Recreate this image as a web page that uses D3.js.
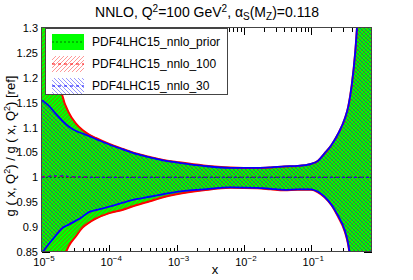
<!DOCTYPE html>
<html>
<head>
<meta charset="utf-8">
<script src="https://cdn.jsdelivr.net/npm/d3@7"></script>
<style>
        body { margin: 0; background: #fff; }
        text { font-family: "Liberation Sans", Arial, sans-serif; }
</style>
</head>
<body>
<svg id="chart" width="413" height="280"></svg>
<script>
// ratio of the gluon to the prior set, NNLO, Q2 = 100 GeV2

// x grid (shared by all bands)
var xVals = [1e-5, 1.3e-5, 1.6e-5, 2e-5, 2.5e-5, 3.2e-5, 4e-5, 5e-5, 6.3e-5, 1e-4,
             1.6e-4, 2.5e-4, 4e-4, 6.3e-4, 1e-3, 2.5e-3, 6.3e-3, 0.016, 0.025, 0.04,
             0.063, 0.1, 0.126, 0.158, 0.2, 0.25, 0.316, 0.355, 0.4, 0.45, 0.5, 0.56, 0.8];

// PDF4LHC15_nnlo_prior (green band)
var priorUp = [1.43, 1.33, 1.25, 1.168, 1.132, 1.109, 1.096, 1.087, 1.080, 1.068,
               1.058, 1.049, 1.042, 1.036, 1.032, 1.025, 1.021, 1.020, 1.020, 1.022,
               1.023, 1.028, 1.034, 1.049, 1.066, 1.088, 1.119, 1.143, 1.187, 1.25, 1.34, 1.45, 1.8];
var priorLo = [0.69, 0.745, 0.788, 0.828, 0.861, 0.881, 0.898, 0.908, 0.916, 0.927,
               0.934, 0.943, 0.951, 0.959, 0.965, 0.973, 0.978, 0.977, 0.975, 0.973,
               0.974, 0.974, 0.969, 0.959, 0.943, 0.920, 0.890, 0.863, 0.81, 0.748, 0.69, 0.63, 0.39];
var priorMid = xVals.map(function() { return 1.0; });

// PDF4LHC15_nnlo_100 (red hatch)
var nnlo100Up = [1.42, 1.32, 1.245, 1.165, 1.13, 1.108, 1.095, 1.086, 1.079, 1.067,
                 1.057, 1.048, 1.041, 1.035, 1.031, 1.024, 1.020, 1.019, 1.020, 1.022,
                 1.023, 1.027, 1.033, 1.048, 1.065, 1.087, 1.118, 1.142, 1.185, 1.25, 1.34, 1.45, 1.8];
var nnlo100Lo = [0.70, 0.75, 0.79, 0.83, 0.862, 0.882, 0.899, 0.909, 0.917, 0.928,
                 0.935, 0.944, 0.952, 0.960, 0.966, 0.974, 0.979, 0.978, 0.976, 0.974,
                 0.975, 0.975, 0.970, 0.960, 0.944, 0.921, 0.891, 0.864, 0.812, 0.75, 0.695, 0.635, 0.40];
var nnlo100Mid = [1.001, 1.002, 1.002, 1.002, 1.001, 1.001, 1.001, 1.000, 1.000, 1.000,
                  1.000, 1.000, 1.000, 1.000, 1.000, 1.000, 1.000, 1.000, 1.000, 1.000,
                  1.000, 1.000, 1.000, 1.000, 1.000, 1.000, 1.000, 1.000, 1.000, 1.000, 1.000, 1.000, 1.000];

// PDF4LHC15_nnlo_30 (blue hatch)
var nnlo30Up = [1.155, 1.142, 1.128, 1.114, 1.102, 1.093, 1.088, 1.083, 1.077, 1.066,
                1.056, 1.047, 1.040, 1.034, 1.030, 1.023, 1.019, 1.019, 1.020, 1.022,
                1.023, 1.027, 1.033, 1.048, 1.065, 1.087, 1.118, 1.142, 1.185, 1.25, 1.34, 1.45, 1.8];
var nnlo30Lo = [0.848, 0.868, 0.883, 0.898, 0.905, 0.913, 0.921, 0.930, 0.934, 0.941,
                0.949, 0.956, 0.961, 0.966, 0.971, 0.976, 0.980, 0.979, 0.977, 0.975,
                0.976, 0.976, 0.971, 0.961, 0.945, 0.923, 0.893, 0.866, 0.815, 0.755, 0.70, 0.64, 0.40];
var nnlo30Mid = [1.000, 1.002, 1.003, 1.003, 1.002, 1.001, 1.001, 1.000, 1.000, 1.000,
                 1.000, 1.000, 1.000, 1.000, 1.000, 1.000, 1.000, 1.000, 1.000, 1.000,
                 1.000, 1.000, 1.000, 1.000, 1.000, 1.000, 1.000, 1.000, 1.000, 1.000, 1.000, 1.000, 1.000];

// axes
var xDomain = [1e-5, 0.8];
var yDomain = [0.85, 1.3];
var yTicks = [0.85, 0.9, 0.95, 1.0, 1.05, 1.1, 1.15, 1.2, 1.25, 1.3];
var yTickLabels = ["0.85", "0.9", "0.95", "1", "1.05", "1.1", "1.15", "1.2", "1.25", "1.3"];
var xMajor = [1e-5, 1e-4, 1e-3, 1e-2, 1e-1];
var xMajorExp = ["-5", "-4", "-3", "-2", "-1"];

var legendNames = ["PDF4LHC15_nnlo_prior", "PDF4LHC15_nnlo_100", "PDF4LHC15_nnlo_30"];

// layout (window.top is taken, so prefix these)
var padL = 42, padR = 372, padT = 28, padB = 252;

var svg = d3.select("#chart");
var x = d3.scaleLog().domain(xDomain).range([padL, padR]);
var y = d3.scaleLinear().domain(yDomain).range([padB, padT]);

// minor ticks 2..9 of every decade inside the domain
var xMinor = [];
for (var e = -5; e <= -1; e++) {
        for (var m = 2; m <= 9; m++) {
                var v = m * Math.pow(10, e);
                if (v < xDomain[1]) xMinor.push(v);
        }
}

var defs = svg.append("defs");
defs.append("clipPath").attr("id", "plotclip")
        .append("rect").attr("x", padL).attr("y", padT)
        .attr("width", padR - padL).attr("height", padB - padT);

function hatch(id, colour, d) {
        defs.append("pattern")
                .attr("id", id)
                .attr("patternUnits", "userSpaceOnUse")
                .attr("width", 4).attr("height", 4)
                .append("path")
                .attr("d", d)
                .attr("stroke", colour)
                .attr("stroke-width", 0.55)
                .attr("stroke-opacity", 0.75);
}
hatch("hatchRed", "#ff0000", "M-1,1 l2,-2 M0,4 l4,-4 M3,5 l2,-2");
hatch("hatchBlue", "#0000ff", "M-1,3 l2,2 M0,0 l4,4 M3,-1 l2,2");

// ticks first, the bands are drawn over them
var ticks = svg.append("g").attr("stroke", "#000").attr("stroke-width", 1);
xMajor.forEach(function(v) {
        var px = Math.round(x(v)) + 0.5;
        ticks.append("line").attr("x1", px).attr("x2", px).attr("y1", padB).attr("y2", padB - 7);
        ticks.append("line").attr("x1", px).attr("x2", px).attr("y1", padT).attr("y2", padT + 7);
});
xMinor.forEach(function(v) {
        var px = Math.round(x(v)) + 0.5;
        ticks.append("line").attr("x1", px).attr("x2", px).attr("y1", padB).attr("y2", padB - 4);
        ticks.append("line").attr("x1", px).attr("x2", px).attr("y1", padT).attr("y2", padT + 4);
});
yTicks.forEach(function(v) {
        var py = Math.round(y(v)) + 0.5;
        ticks.append("line").attr("x1", padL).attr("x2", padL + 8).attr("y1", py).attr("y2", py);
        ticks.append("line").attr("x1", padR).attr("x2", padR - 8).attr("y1", py).attr("y2", py);
});

// bands
function rows(up, lo, mid) {
        return xVals.map(function(xv, i) { return { x: xv, up: up[i], lo: lo[i], mid: mid[i] }; });
}
var area = d3.area().x(function(d) { return x(d.x); })
        .y0(function(d) { return y(d.lo); })
        .y1(function(d) { return y(d.up); })
        .curve(d3.curveMonotoneX);
function edge(key) {
        return d3.line().x(function(d) { return x(d.x); })
                .y(function(d) { return y(d[key]); })
                .curve(d3.curveMonotoneX);
}

var plot = svg.append("g").attr("clip-path", "url(#plotclip)");
var prior = rows(priorUp, priorLo, priorMid);
var r100 = rows(nnlo100Up, nnlo100Lo, nnlo100Mid);
var r30 = rows(nnlo30Up, nnlo30Lo, nnlo30Mid);

plot.append("path").datum(prior).attr("d", area).attr("fill", "#00ff00");
plot.append("path").datum(r100).attr("d", area).attr("fill", "url(#hatchRed)");
plot.append("path").datum(r30).attr("d", area).attr("fill", "url(#hatchBlue)");

["up", "lo"].forEach(function(k) {
        plot.append("path").datum(r100).attr("d", edge(k))
                .attr("fill", "none").attr("stroke", "#ff0000").attr("stroke-width", 2);
});
["up", "lo"].forEach(function(k) {
        plot.append("path").datum(r30).attr("d", edge(k))
                .attr("fill", "none").attr("stroke", "#0000ff").attr("stroke-width", 1.8);
});

plot.append("path").datum(prior).attr("d", edge("mid"))
        .attr("fill", "none").attr("stroke", "#007700").attr("stroke-width", 1.2)
        .attr("stroke-dasharray", "2,2");
plot.append("path").datum(r100).attr("d", edge("mid"))
        .attr("fill", "none").attr("stroke", "#ff0000").attr("stroke-width", 1.2)
        .attr("stroke-dasharray", "3,3");
plot.append("path").datum(r30).attr("d", edge("mid"))
        .attr("fill", "none").attr("stroke", "#2020cc").attr("stroke-width", 1.2)
        .attr("stroke-dasharray", "3,3");

// frame
svg.append("rect")
        .attr("x", padL - 0.5).attr("y", padT - 0.5)
        .attr("width", padR - padL).attr("height", padB - padT)
        .attr("fill", "none").attr("stroke", "#444").attr("stroke-width", 1);

// tick labels
svg.append("g").selectAll("text").data(yTicks).join("text")
        .attr("x", padL - 4)
        .attr("y", function(d) { return y(d) + 4; })
        .attr("text-anchor", "end")
        .attr("font-size", "11px")
        .text(function(d, i) { return yTickLabels[i]; });

var xl = svg.append("g").selectAll("text").data(xMajor).join("text")
        .attr("x", function(d) { return x(d) + 2; })
        .attr("y", 266)
        .attr("text-anchor", "middle")
        .attr("font-size", "11px");
xl.append("tspan").text("10");
xl.append("tspan").attr("dy", -5).attr("font-size", "8px")
        .text(function(d, i) { return xMajorExp[i].replace("-", "\u2212"); });

// axis titles
svg.append("text")
        .attr("x", 215).attr("y", 274)
        .attr("text-anchor", "middle")
        .attr("font-size", "13px")
        .text("x");

var yt = svg.append("text")
        .attr("transform", "translate(15,146) rotate(-90)")
        .attr("text-anchor", "middle")
        .attr("font-size", "13px");
yt.append("tspan").text("g ( x, Q");
yt.append("tspan").attr("dy", -5).attr("font-size", "9px").text("2");
yt.append("tspan").attr("dy", 5).text(") / g ( x, Q");
yt.append("tspan").attr("dy", -5).attr("font-size", "9px").text("2");
yt.append("tspan").attr("dy", 5).text(") [ref]");

// title
var tt = svg.append("text")
        .attr("x", 207).attr("y", 17)
        .attr("text-anchor", "middle")
        .attr("font-size", "14px");
tt.append("tspan").text("NNLO, Q");
tt.append("tspan").attr("dy", -5).attr("font-size", "10px").text("2");
tt.append("tspan").attr("dy", 5).text("=100 GeV");
tt.append("tspan").attr("dy", -5).attr("font-size", "10px").text("2");
tt.append("tspan").attr("dy", 5).text(", \u03b1");
tt.append("tspan").attr("dy", 3).attr("font-size", "10px").text("S");
tt.append("tspan").attr("dy", -3).text("(M");
tt.append("tspan").attr("dy", 3).attr("font-size", "10px").text("Z");
tt.append("tspan").attr("dy", -3).text(")=0.118");

// legend
var lg = svg.append("g");
lg.append("rect")
        .attr("x", 45.5).attr("y", 28.5).attr("width", 182).attr("height", 66)
        .attr("fill", "#fff").attr("stroke", "#444").attr("stroke-width", 1);

var swFill = ["#00ff00", "url(#hatchRed)", "url(#hatchBlue)"];
var swLine = ["#007700", "#ff0000", "#0000ff"];
var swDash = ["2,2", "3,3", "3,3"];
legendNames.forEach(function(name, i) {
        var cy = 42 + i * 22;
        lg.append("rect")
                .attr("x", 52).attr("y", cy - 8).attr("width", 32).attr("height", 16)
                .attr("fill", swFill[i]);
        lg.append("line")
                .attr("x1", 52).attr("x2", 84).attr("y1", cy).attr("y2", cy)
                .attr("stroke", swLine[i]).attr("stroke-width", 1.2)
                .attr("stroke-dasharray", swDash[i]);
        lg.append("text")
                .attr("x", 92).attr("y", cy + 4)
                .attr("font-size", "12px")
                .text(name);
});
</script>
</body>
</html>
